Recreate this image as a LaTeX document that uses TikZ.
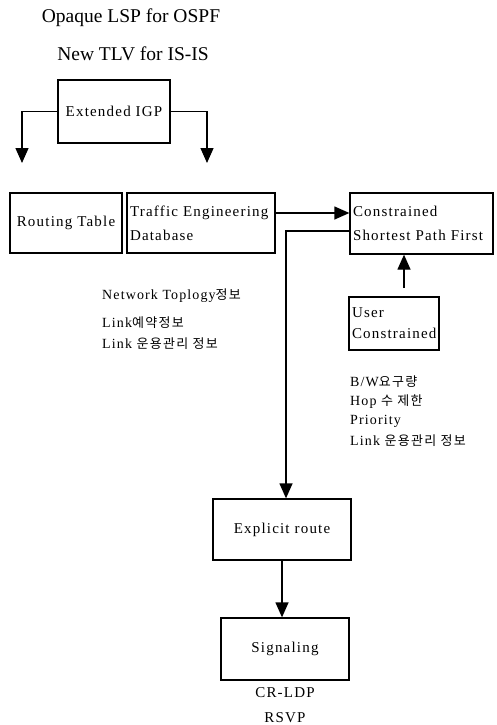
\documentclass[tikz,border=0pt]{standalone}
\usepackage{fontspec}
\setmainfont{Liberation Serif}
\newfontfamily\bodyfont[LetterSpace=8]{Liberation Serif}
\newfontfamily\krfont[LetterSpace=10]{Noto Sans CJK KR}
\usetikzlibrary{arrows.meta}
\newcommand\ko[1]{{\krfont\fontsize{13}{15}\selectfont #1}}
\begin{document}
\begin{tikzpicture}[x=1pt,y=-1pt,
  every node/.style={inner sep=0pt},
  box/.style={draw, line width=1.3pt, inner xsep=3pt, font=\bodyfont\fontsize{15}{24}\selectfont},
  lbox/.style={box, align=left, text width=#1},
  conn/.style={line width=1.3pt},
  arr/.style={conn, -{Triangle[width=13pt,length=15pt]}},
  title/.style={font=\fontsize{19.5}{23}\selectfont},
  note/.style={font=\bodyfont\fontsize{14}{19}\selectfont, anchor=west},
  sub/.style={font=\bodyfont\fontsize{15}{19}\selectfont},
]
\useasboundingbox (0,0) rectangle (496,725);
\fill[white] (0,0) rectangle (496,725);

\node[title] (t1) at (131,18) {Opaque LSP for OSPF};
\node[title] (t2) at (133,54) {New TLV for IS-IS};

\node[box, minimum width=112, minimum height=63] (igp) at (114,111.5) {Extended IGP};
\node[box, minimum width=112, minimum height=60] (rt) at (66,223) {Routing Table};
\node[lbox=142, minimum width=148, minimum height=60] (te) at (201,223) {Traffic Engineering\\Database};
\node[lbox=137, minimum width=143, minimum height=61] (cspf) at (421.5,223.5) {Constrained\\Shortest Path First};
\node[lbox=84, minimum width=90, minimum height=53, font=\bodyfont\fontsize{15}{21}\selectfont] (user) at (394,323.5) {User\\Constrained};
\node[box, minimum width=138, minimum height=61] (er) at (282,529.5) {Explicit route};
\node[box, minimum width=128, minimum height=62] (sig) at (285,649) {Signaling};

\node[sub] (crldp) at (285,693) {CR-LDP};
\node[sub] (rsvp) at (285,718) {RSVP};

\node[note] (l1) at (102,296) {Network Toplogy\ko{정보}};
\node[note] (l2) at (102,323) {Link\ko{예약정보}};
\node[note] (l3) at (102,344) {Link \ko{운용관리 정보}};

\node[note] (r1) at (350,382) {B/W\ko{요구량}};
\node[note] (r2) at (350,402) {Hop \ko{수 제한}};
\node[note] (r3) at (350,421) {Priority};
\node[note] (r4) at (350,441) {Link \ko{운용관리 정보}};

\coordinate (c1) at (22,163);
\coordinate (c2) at (207,163);
\coordinate (c3) at (404,288);

\draw[arr] (igp.west) -| (c1);
\draw[arr] (igp.east) -| (c2);
\draw[arr] ([yshift=10pt]te.east) -- ([yshift=10pt]te.east -| cspf.west);
\draw[arr] ([yshift=-7.5pt]cspf.west) -| ([xshift=4pt]er.north);
\draw[arr] (c3) -- (c3 |- cspf.south);
\draw[arr] (er.south) -- (er.south |- sig.north);
\end{tikzpicture}
\end{document}
